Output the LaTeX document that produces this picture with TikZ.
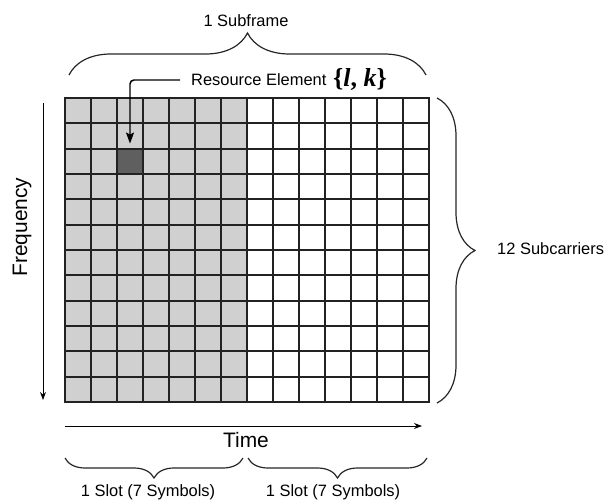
\documentclass[tikz,border=0pt]{standalone}
\usepackage{fontspec}
\setmainfont{Liberation Sans}
\newfontfamily\labelserif{Liberation Serif}
\usetikzlibrary{decorations.pathreplacing,arrows.meta}

\definecolor{slotgray}{HTML}{D0D0D0}
\definecolor{elemgray}{HTML}{5F5F5F}
\definecolor{gridline}{HTML}{222222}

\tikzset{
    cell/.style={fill=#1, minimum width=26bp, minimum height=26bp,
        inner sep=0pt, outer sep=0pt},
    gridrule/.style={draw=gridline, line width=1.6bp, line cap=rect},
    txt/.style={font=\fontsize{16.5}{20}\selectfont, inner sep=0pt},
    bigtxt/.style={font=\fontsize{21}{25}\selectfont, inner sep=0pt},
    curly/.style={decorate, decoration={brace, amplitude=#1}, line width=1.2pt, draw=black!85},
    axis/.style={-{Stealth[length=8pt,width=6pt]}, line width=1pt}
}

\begin{document}
\begin{tikzpicture}[x=1bp,y=-1bp]
    \useasboundingbox (0,0) rectangle (606,503);

    % resource grid: 14 symbols x 12 subcarriers
    \foreach \c in {0,...,13}{
        \foreach \r in {0,...,11}{
            \ifnum\c<7 \def\cellfill{slotgray}\else\def\cellfill{white}\fi
            \node[cell=\cellfill] (c\c-\r) at ({65+(\c+0.5)*26},{98+round(25.33*\r)+12.5}) {};
        }
    }
    \node[cell=elemgray] (elem) at (c2-2) {};
    \foreach \c in {0,...,14}
        \draw[gridrule] ({65+26*\c},98) -- ({65+26*\c},402);
    \foreach \r in {0,...,12}
        \draw[gridrule] (65,{98+round(25.33*\r)}) -- (429,{98+round(25.33*\r)});

    % resource element label
    \node[txt, anchor=west, inner xsep=11bp] (re) at (180,80) {Resource Element};
    \node[anchor=west, inner sep=0pt, font=\labelserif\fontsize{26}{30}\selectfont\bfseries]
        (rek) at (333,80) {\{\textit{l}, \textit{k}\}};
    \draw[line width=1.5pt, rounded corners=4pt, shorten >=5pt,
        -{Stealth[length=11pt,width=8pt,inset=2pt]}] (re.west) -| (elem.north);

    % subframe
    \coordinate (sfl) at (69,75);
    \coordinate (sfr) at (426,75);
    \draw[curly=42bp] (sfl) -- (sfr);
    \node[txt] (subframe) at (246,21) {1 Subframe};

    % subcarriers
    \coordinate (sct) at (437,98);
    \coordinate (scb) at (437,403);
    \draw[curly=38bp] (sct) -- (scb);
    \node[txt, anchor=west] (subcarriers) at (497,249) {12 Subcarriers};

    % axes
    \coordinate (freqtop) at (43,103);
    \coordinate (freqbot) at (43,400);
    \draw[axis] (freqtop) -- (freqbot);
    \node[bigtxt, rotate=90] (freq) at (22,227) {Frequency};

    \coordinate (timel) at (65,426);
    \coordinate (timer) at (422,426);
    \draw[axis] (timel) -- (timer);
    \node[bigtxt] (time) at (246,440) {Time};

    % slots
    \coordinate (slotal) at (65,458);
    \coordinate (slotar) at (243,458);
    \coordinate (slotbl) at (248,458);
    \coordinate (slotbr) at (427,458);
    \draw[curly=20bp] (slotar) -- (slotal);
    \draw[curly=20bp] (slotbr) -- (slotbl);
    \node[txt] (slota) at (148,492) {1 Slot (7 Symbols)};
    \node[txt] (slotb) at (333,492) {1 Slot (7 Symbols)};
\end{tikzpicture}
\end{document}
